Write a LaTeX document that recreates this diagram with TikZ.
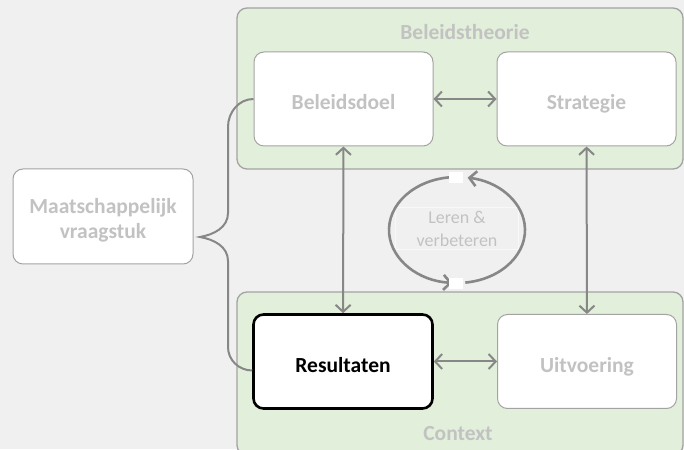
\documentclass[tikz,border=0pt]{standalone}
\usepackage{fontspec}
\setmainfont{Carlito}
\usetikzlibrary{arrows.meta}

\definecolor{bggray}{HTML}{F0F0F0}
\definecolor{groupgreen}{HTML}{E2EFDA}
\definecolor{linegray}{HTML}{878787}
\definecolor{framegray}{HTML}{A3A3A3}
\definecolor{textgray}{HTML}{C2C2C2}

\tikzset{
  group/.style={draw=framegray, line width=1.3pt, fill=groupgreen, rounded corners=10pt},
  grouplabel/.style={text=textgray, font=\fontsize{21.5}{25}\selectfont\bfseries},
  box/.style={draw=framegray, line width=1pt, fill=white, rounded corners=10pt,
    minimum width=179pt, minimum height=94pt, text=textgray,
    text height=22pt, text depth=0pt,
    font=\fontsize{21.5}{25}\selectfont\bfseries, align=center},
  link/.style={draw=linegray, line width=2pt,
    {Straight Barb[length=7pt,width=15pt]}-{Straight Barb[length=7pt,width=15pt]}},
  loopline/.style={draw=linegray, line width=2.6pt, -{Straight Barb[length=7pt,width=15pt]}},
  gapmark/.style={fill=white, minimum width=14pt, minimum height=11pt, inner sep=0pt}
}

\begin{document}
\begin{tikzpicture}[x=1pt,y=1pt]

  \useasboundingbox (0,0) rectangle (684,449);
  \fill[bggray] (0,0) rectangle (684,449);

  % the two groups
  \draw[group] (237,280) rectangle (683,441);
  \draw[group] (237,-6) rectangle (683,157);
  \node[grouplabel] (theorie) at (465,417) {Beleidstheorie};
  \node[grouplabel] (context) at (458,15) {Context};

  \node[box] (doel) at (343.5,350) {Beleidsdoel};
  \node[box] (strat) at (586.5,350) {Strategie};
  \node[box, draw=black, line width=2.6pt, text=black] (res) at (343,87.5) {Resultaten};
  \node[box] (uitv) at (587,87.5) {Uitvoering};
  \node[box, minimum width=180pt, minimum height=95pt, text height=50pt, text depth=5pt]
    (vraag) at (103,232.5) {Maatschappelijk\\vraagstuk};

  \draw[link] (doel) -- (strat);
  \draw[link] (res) -- (uitv);
  \draw[link] (doel) -- (res);
  \draw[link] (strat) -- (uitv);

  % coordinates for the brace
  \coordinate (tip) at (200,212);
  \coordinate (resin) at ([yshift=-9pt]res.west);
  \draw[linegray, line width=2pt] (doel.west) to[out=180,in=90] (228,322) -- (228,236)
    to[out=-90,in=10] (tip) to[out=-10,in=90] (228,188) -- (228,102)
    to[out=-90,in=180] (resin);

  % leren en verbeteren
  \coordinate (loop) at (457,219);
  \node[draw=white!55!bggray, line width=0.6pt, minimum width=123pt, minimum height=36pt,
    text=textgray, font=\fontsize{18}{23}\selectfont, align=center]
    (leren) at (457,220.5) {Leren \&\\verbeteren};
  \draw[loopline] ([shift={(94:68pt and 53pt)}]loop) arc[start angle=94, end angle=266, x radius=68pt, y radius=53pt];
  \draw[loopline] ([shift={(-83:68pt and 53pt)}]loop) arc[start angle=-83, end angle=81, x radius=68pt, y radius=53pt];
  \node[gapmark] (gaptop) at (456,271.5) {};
  \node[gapmark] (gapbot) at (456,165.5) {};

\end{tikzpicture}
\end{document}
